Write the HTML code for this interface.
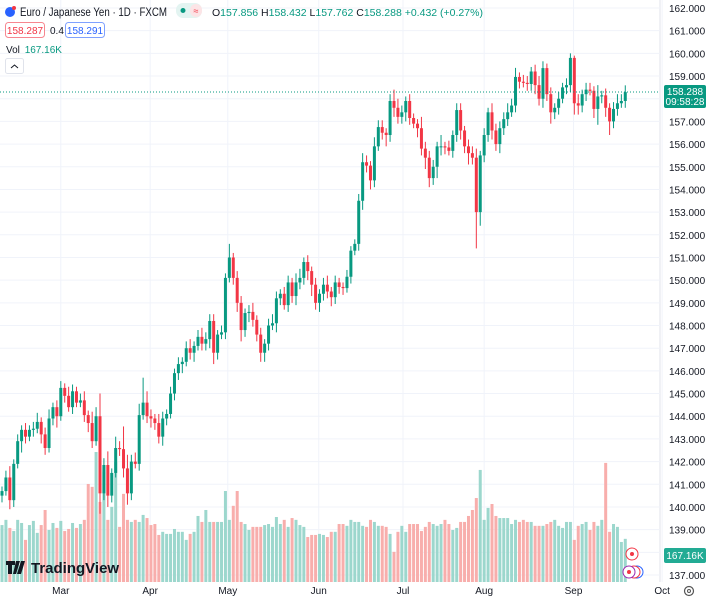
<!DOCTYPE html>
<html><head><meta charset="utf-8"><style>
html,body{margin:0;padding:0;background:#fff;width:710px;height:600px;overflow:hidden;font-family:"Liberation Sans",sans-serif;}
svg{display:block}
</style></head><body>
<svg id="chart" width="710" height="600" xmlns="http://www.w3.org/2000/svg" font-family="Liberation Sans, sans-serif">
<g id="grid"></g>
<g id="vols"></g>
<g id="candles"></g>
<g id="yaxis"></g>
<g id="xaxis"></g>
<line x1="0" x2="660" y1="92" y2="92" stroke="#089981" stroke-width="1" stroke-dasharray="1,2"/>
<g>
<rect x="664" y="85" width="42" height="23" rx="2" fill="#089981"/>
<text x="685" y="95" font-size="10" fill="#fff" text-anchor="middle">158.288</text>
<text x="685" y="105" font-size="10" fill="#fff" text-anchor="middle">09:58:28</text>
</g>
<g>
<rect x="664" y="548" width="42" height="15" rx="2" fill="#22ab94"/>
<text x="685" y="559" font-size="10" fill="#fff" text-anchor="middle">167.16K</text>
</g>
<g>
<circle cx="632" cy="554" r="6" fill="#fff" stroke="#f23645"/><circle cx="632" cy="554" r="2" fill="#f23645"/>
<circle cx="637" cy="572" r="6" fill="#fff" stroke="#2962ff"/>
<circle cx="634" cy="572" r="6" fill="#fff" stroke="#f23645"/>
<circle cx="629" cy="572" r="6" fill="#fff" stroke="#9c27b0"/>
<circle cx="629" cy="572" r="2" fill="#f23645"/>
</g>
<g><circle cx="689" cy="591" r="4.5" fill="none" stroke="#555" stroke-width="1.2"/><circle cx="689" cy="591" r="1.5" fill="none" stroke="#555"/></g>
<g>
<path d="M6 561h9v4h-3v9h-4v-9h-2z M16 561h4l-4 13h-3z M21 561h4l-4 13h-4z" fill="#131722"/>
<text x="31" y="573" font-size="15" font-weight="bold" fill="#131722">TradingView</text>
</g>
<g>
<circle cx="10" cy="12" r="5" fill="#2962ff"/>
<circle cx="14" cy="8" r="2" fill="#f23645"/>
<text x="20" y="16" font-size="11.5" fill="#131722" textLength="147" lengthAdjust="spacingAndGlyphs">Euro / Japanese Yen · 1D · FXCM</text>
<rect x="176" y="3" width="26" height="15" rx="7" fill="#e3f4f1"/>
<circle cx="183" cy="10.5" r="2.5" fill="#089981"/>
<rect x="190" y="4" width="12" height="13" rx="6" fill="#fce4e6"/>
<text x="196" y="14" font-size="9" fill="#f23645" text-anchor="middle">≈</text>
<text x="212" y="16" font-size="10.5" fill="#131722">O<tspan fill="#089981">157.856</tspan> H<tspan fill="#089981">158.432</tspan> L<tspan fill="#089981">157.762</tspan> C<tspan fill="#089981">158.288 +0.432 (+0.27%)</tspan></text>
<rect x="5.5" y="22.5" width="39" height="15" rx="3" fill="#fff" stroke="#f23645" stroke-opacity="0.6"/>
<text x="25" y="34" font-size="10" fill="#f23645" text-anchor="middle">158.287</text>
<text x="50" y="34" font-size="10" fill="#131722">0.4</text>
<rect x="65.5" y="22.5" width="39" height="15" rx="3" fill="#fff" stroke="#2962ff" stroke-opacity="0.6"/>
<text x="85" y="34" font-size="10" fill="#2962ff" text-anchor="middle">158.291</text>
<text x="6" y="53" font-size="10" fill="#131722">Vol <tspan fill="#089981" dx="2">167.16K</tspan></text>
<rect x="5.5" y="58.5" width="18" height="15" rx="2" fill="#fff" stroke="#e0e3eb"/>
<path d="M11 68l3.5-3 3.5 3" fill="none" stroke="#131722" stroke-width="1"/>
</g>
</svg>
<script>
const closes=[140.7,141.3,140.3,141.9,142.9,143.4,143.1,143.4,143.45,143.75,143.2,142.6,143.9,144.4,144.0,145.25,144.9,144.4,145.1,144.6,144.7,144.05,143.7,142.9,144.0,140.6,141.85,140.5,141.5,142.6,142.55,141.7,140.6,142.0,141.9,144.05,144.6,144.0,143.9,143.7,143.1,143.9,144.1,145.0,145.9,
146.3,146.4,147.0,146.8,147.1,147.5,147.2,147.4,148.2,146.8,147.6,147.7,150.1,151.0,150.1,149.0,147.8,148.55,148.6,148.25,147.6,146.8,147.2,148.0,148.1,149.2,149.4,148.9,149.9,149.3,149.9,150.1,150.8,150.4,149.8,149.0,149.4,149.8,149.5,149.25,149.9,149.7,149.65,150.15,151.3,151.6,153.5,155.2,155.05,154.4,155.9,156.75,156.5,156.4,157.9,157.6,157.2,157.4,157.9,157.15,156.9,156.7,155.8,155.4,154.5,155.0,155.9,155.9,155.85,155.7,156.4,157.5,156.6,155.9,155.6,155.4,153.0,155.5,156.4,157.4,156.6,156.0,156.7,157.1,157.4,157.7,158.96,158.75,158.7,158.65,159.2,158.6,158.0,159.35,158.2,157.4,157.6,158.0,158.5,158.6,159.8,157.8,157.7,158.2,158.4,158.35,157.55,158.1,158.15,157.6,157.0,157.55,157.8,157.9,158.29];
const firstOpen=140.5;
const upperWicks=[0.2,0.3,0.5,0.2,0.3,0.2,0.3,0.2,0.3,0.4,0.2,0.3,0.4,0.2,0.3,0.3,0.2,0.4,0.3,0.2,0.3,0.4,0.2,0.5,0.4,1.0,0.3,0.6,0.2,0.5,0.3,1.0,0.6,0.3,0.4,0.5,1.1,0.5,0.3,0.2,0.4,0.3,0.2,0.3,0.2,
0.3,0.2,0.3,0.4,0.2,0.3,0.4,0.3,0.3,0.3,0.2,0.3,0.2,0.6,0.2,0.3,0.3,0.2,0.3,0.4,0.2,0.3,0.2,0.3,0.4,0.3,0.2,0.3,0.3,0.2,0.4,0.4,0.2,0.3,0.2,0.3,0.2,0.3,0.4,0.2,0.3,0.2,0.2,0.3,0.2,0.2,0.3,0.4,0.3,0.2,0.4,0.3,0.3,0.2,0.3,0.5,0.4,0.3,0.2,0.3,0.2,0.2,0.5,0.3,0.3,0.3,0.2,0.5,0.2,0.3,0.2,0.3,0.3,0.2,0.3,0.3,0.4,0.2,0.3,0.2,0.4,0.3,0.3,0.3,0.4,0.3,0.4,0.2,0.3,0.3,0.2,0.3,0.4,0.3,0.2,0.3,0.2,0.3,0.2,0.3,0.2,0.1,0.4,0.2,0.3,0.3,0.2,0.5,0.2,0.3,0.2,0.3,0.4,0.3,0.3,0.2,0.2];
const lowerWicks=[0.3,0.2,0.4,0.3,0.2,0.5,0.3,0.2,0.3,0.2,0.4,0.3,0.2,0.3,0.5,0.2,0.3,0.2,0.3,0.2,0.2,0.3,0.4,0.3,0.2,0.9,0.3,0.5,0.3,0.2,0.3,0.4,0.5,0.3,0.2,0.3,0.2,0.3,0.4,0.3,0.3,0.4,0.3,0.2,0.3,
0.3,0.4,0.2,0.3,0.4,0.2,0.3,0.3,0.4,0.5,0.3,0.2,0.3,0.2,0.3,0.4,0.5,0.3,0.4,0.3,0.3,0.4,0.4,0.3,0.2,0.4,0.3,0.2,0.3,0.3,0.4,0.3,0.3,0.4,0.5,0.3,0.4,0.3,0.3,0.4,0.3,0.3,0.3,0.2,0.3,0.2,0.3,0.4,0.3,0.4,0.3,0.2,0.3,0.5,0.3,0.4,0.3,0.3,0.4,0.3,0.2,0.4,0.3,0.5,0.4,0.3,0.5,0.4,0.3,0.2,0.3,0.3,0.4,0.3,0.5,0.3,1.6,0.6,0.3,0.3,0.4,0.3,0.4,0.3,0.3,0.2,0.3,0.3,0.2,0.3,0.3,0.4,0.3,0.4,0.3,0.5,0.3,0.3,0.2,0.3,0.3,0.5,0.4,0.3,0.3,0.2,0.4,0.7,0.3,0.4,0.6,0.3,0.3,0.2,0.3];
const volumes=[219,239,208,196,239,227,162,219,235,189,219,277,200,227,208,235,196,204,227,208,223,239,377,366,500,308,424,239,289,462,212,339,239,231,239,231,258,246,219,223,181,193,185,185,204,193,193,162,185,193,254,231,277,231,231,231,231,350,239,293,350,231,223,200,212,212,212,219,223,212,250,223,239,212,246,239,219,212,173,181,181,185,181,173,193,193,223,223,216,239,231,231,216,212,239,231,216,216,212,185,116,193,216,193,223,223,223,196,212,231,223,216,223,239,223,200,208,231,231,254,277,323,431,239,285,300,254,246,246,246,223,239,231,239,231,231,216,216,216,223,231,239,216,208,231,231,162,216,223,231,200,231,216,239,458,193,223,212,154,166];
const priceTicks=[137,138,139,140,141,142,143,144,145,146,147,148,149,150,151,152,153,154,155,156,157,158,159,160,161,162];
const monthLabels=["Mar","Apr","May","Jun","Jul","Aug","Sep","Oct"];
const monthBarIndex=[15,37.8,57.6,80.8,102.3,123,145.8,168.4];

const NS="http://www.w3.org/2000/svg";
const PLOT_R=660, X0=2, STEP=3.92;
function xOf(i){return X0+i*STEP;}
function yOf(p){return 8+(162-p)*22.68;}
function vh(v){return v*0.26;}
function mk(tag,attrs,parent){const e=document.createElementNS(NS,tag);for(const k in attrs)e.setAttribute(k,attrs[k]);parent.appendChild(e);return e;}
const grid=document.getElementById('grid'),yax=document.getElementById('yaxis'),xax=document.getElementById('xaxis');
const vg=document.getElementById('vols'),cg=document.getElementById('candles');
mk('line',{x1:PLOT_R,x2:PLOT_R,y1:0,y2:582,stroke:'#e0e3eb'},grid);
priceTicks.forEach(p=>{
  const y=yOf(p);
  const l=mk('line',{x1:0,x2:PLOT_R,y1:y,y2:y,stroke:'#f0f3fa'},grid);
  
  
  const t=mk('text',{x:669,y:y+4,'font-size':10,fill:'#131722'},yax);
  t.textContent=p.toFixed(3);
  
  
});
monthLabels.forEach((m,k)=>{
  const x=xOf(monthBarIndex[k]);
  const l=mk('line',{x1:x,x2:x,y1:0,y2:582,stroke:'#f0f3fa'},grid);
  
  
  const t=mk('text',{x:x,y:594,'font-size':10,fill:'#131722','text-anchor':'middle'},xax);
  t.textContent=m;
  
  
});
let prev=firstOpen;
closes.forEach((c,i)=>{
  const o=prev; prev=c;
  const up=c>=o;
  const hi=Math.max(o,c)+upperWicks[i], lo=Math.min(o,c)-lowerWicks[i];
  const x=xOf(i);
  const vb=mk('rect',{x:x-1.5,y:582-vh(volumes[i]),width:3,height:vh(volumes[i]),fill:up?'#9cd7cd':'#f8aeac'},vg);
  
  
  const col=up?'#089981':'#f23645';
  const w=mk('line',{x1:x,x2:x,y1:yOf(hi),y2:yOf(lo),stroke:col,'stroke-width':1},cg);
  
  
  const yt=yOf(Math.max(o,c)),yb=yOf(Math.min(o,c));
  const b=mk('rect',{x:x-1.5,y:yt,width:3,height:Math.max(1,yb-yt),fill:col},cg);
  
  
});
</script>
</body></html>
